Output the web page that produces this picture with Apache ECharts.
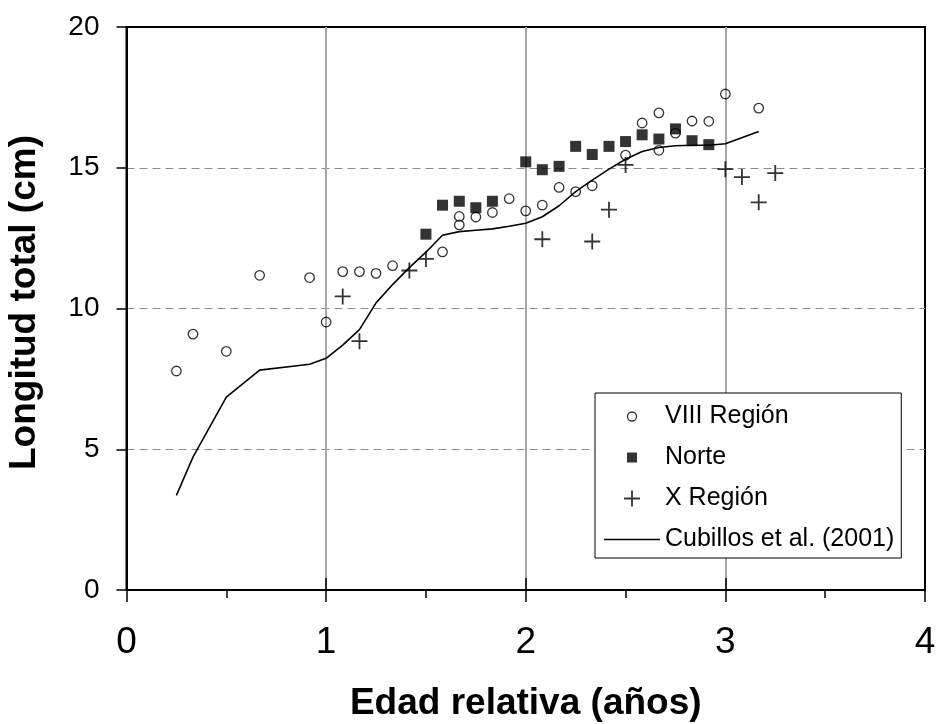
<!DOCTYPE html>
<html>
<head>
<meta charset="utf-8">
<script src="https://cdn.jsdelivr.net/npm/echarts@6/dist/echarts.min.js"></script>
<style>
  html, body { margin: 0; padding: 0; background: #fff; }
  #chart { width: 938px; height: 724px; }
</style>
</head>
<body>
<div id="chart"></div>
<script>
// VIII Región (círculos)
const viiiAge = [0.25, 0.333, 0.5, 0.667, 0.917, 1.0, 1.083, 1.167, 1.25, 1.333,
  1.583, 1.667, 1.667, 1.75, 1.833, 1.917, 2.0, 2.083, 2.167, 2.25, 2.333,
  2.5, 2.583, 2.667, 2.667, 2.75, 2.833, 2.917, 3.0, 3.167];
const viiiLen = [7.78, 9.09, 8.48, 11.18, 11.10, 9.52, 11.31, 11.31, 11.25, 11.52,
  12.01, 12.97, 13.27, 13.25, 13.41, 13.90, 13.47, 13.67, 14.30, 14.15, 14.36,
  15.45, 16.59, 16.95, 15.62, 16.23, 16.66, 16.65, 17.62, 17.12];

// Norte (cuadrados)
const norteAge = [1.5, 1.583, 1.667, 1.75, 1.833, 2.0, 2.083, 2.167, 2.25, 2.333,
  2.417, 2.5, 2.583, 2.667, 2.75, 2.833, 2.917];
const norteLen = [12.64, 13.67, 13.81, 13.58, 13.81, 15.21, 14.93, 15.05, 15.76, 15.47,
  15.76, 15.93, 16.17, 16.02, 16.38, 15.96, 15.82];

// X Región (cruces)
const xAge = [1.083, 1.167, 1.417, 1.5, 2.083, 2.333, 2.417, 2.5, 3.0, 3.083, 3.167, 3.25];
const xLen = [10.43, 8.84, 11.35, 11.76, 12.46, 12.38, 13.51, 15.10, 14.95, 14.67, 13.77, 14.81];

// Cubillos et al. (2001)
const cubAge = [0.25, 0.333, 0.5, 0.667, 0.917, 1.0, 1.083, 1.167, 1.25, 1.333, 1.417,
  1.5, 1.583, 1.667, 1.75, 1.833, 1.917, 2.0, 2.083, 2.167, 2.25, 2.333, 2.417,
  2.5, 2.583, 2.667, 2.75, 2.833, 2.917, 3.0, 3.167];
const cubLen = [3.36, 4.72, 6.85, 7.81, 8.02, 8.23, 8.7, 9.25, 10.2, 10.85, 11.45,
  12.0, 12.6, 12.73, 12.78, 12.83, 12.92, 13.03, 13.26, 13.65, 14.15, 14.56, 14.95,
  15.3, 15.58, 15.72, 15.78, 15.8, 15.8, 15.85, 16.29];

const xTicks = [0, 1, 2, 3, 4];
const yTicks = [0, 5, 10, 15, 20];

const pair = (a, b) => a.map((v, i) => [v, b[i]]);

const FONT = '"Liberation Sans", Arial, sans-serif';
const plusPath = 'path://M7.1,0H8.9V7.1H16V8.9H8.9V16H7.1V8.9H0V7.1H7.1Z';

var chart = echarts.init(document.getElementById('chart'), null, { renderer: 'canvas' });

var option = {
    backgroundColor: '#fff',
    animation: false,
    grid: {
        left: 126.5,
        right: 13,
        top: 27,
        bottom: 134,
        outerBoundsMode: 'none',
        containLabel: false,
        show: true,
        borderColor: '#000',
        borderWidth: 2,
        backgroundColor: 'transparent'
    },
    legend: {
        orient: 'vertical',
        left: 595,
        top: 393,
        padding: [11, 7, 6, 9],
        itemGap: 16,
        itemWidth: 56,
        itemHeight: 16,
        selectedMode: false,
        backgroundColor: '#fff',
        borderColor: '#000',
        borderWidth: 1,
        borderRadius: 0,
        itemStyle: { borderWidth: 1.3 },
        textStyle: { fontFamily: FONT, fontSize: 25, lineHeight: 25, color: '#000' },
        data: [
            { name: 'VIII Región', icon: 'path://M0,0M16,16M12.5,8A4.5,4.5,0,1,1,3.5,8A4.5,4.5,0,1,1,12.5,8Z' },
            { name: 'Norte', icon: 'path://M0,0M16,16M3,3H13V13H3Z' },
            { name: 'X Región', icon: plusPath },
            { name: 'Cubillos et al. (2001)', icon: 'path://M0,7.2H56V8.8H0Z' }
        ]
    },
    xAxis: [
        {
            type: 'value',
            min: 0,
            max: 4,
            interval: 1,
            name: 'Edad relativa (años)',
            nameLocation: 'middle',
            nameGap: 95,
            nameTextStyle: { fontFamily: FONT, fontSize: 37, fontWeight: 'bold', color: '#000' },
            axisLine: { show: true, onZero: false, lineStyle: { color: '#000', width: 2 } },
            axisTick: { show: true, length: 12, lineStyle: { color: '#000', width: 1.5 } },
            minorTick: { show: true, splitNumber: 2, length: 8, lineStyle: { color: '#000', width: 1.5 } },
            axisLabel: {
                margin: 34,
                fontFamily: FONT,
                fontSize: 37,
                color: '#000',
                customValues: xTicks
            },
            splitLine: {
                show: true,
                showMinLine: false,
                showMaxLine: false,
                lineStyle: { color: '#a6a6a6', width: 2 }
            }
        },
        {
            // parte interior de las marcas principales
            type: 'value',
            position: 'bottom',
            min: 0,
            max: 4,
            interval: 1,
            axisLine: { show: false },
            axisTick: { show: true, inside: true, length: 12, lineStyle: { color: '#000', width: 1.5 } },
            axisLabel: { show: false },
            splitLine: { show: false }
        }
    ],
    yAxis: {
        type: 'value',
        min: 0,
        max: 20,
        interval: 5,
        name: 'Longitud total (cm)',
        nameLocation: 'middle',
        nameGap: 83,
        nameTextStyle: {
            fontFamily: FONT, fontSize: 37, fontWeight: 'bold', color: '#000',
            padding: [0, 0, 0, 12]
        },
        axisLine: { show: true, onZero: false, lineStyle: { color: '#000', width: 2 } },
        axisTick: { show: true, length: 10, lineStyle: { color: '#000', width: 1.5 } },
        axisLabel: {
            margin: 27,
            fontFamily: FONT,
            fontSize: 28,
            color: '#000',
            customValues: yTicks
        },
        splitLine: {
            show: true,
            showMinLine: false,
            showMaxLine: false,
            lineStyle: { color: '#8c8c8c', width: 1, type: [8, 5] }
        }
    },
    series: [
        {
            name: 'VIII Región',
            type: 'scatter',
            symbol: 'circle',
            symbolSize: 9.5,
            itemStyle: { color: 'rgba(0,0,0,0)', borderColor: '#000', borderWidth: 1.3 },
            data: pair(viiiAge, viiiLen)
        },
        {
            name: 'Norte',
            type: 'scatter',
            symbol: 'rect',
            symbolSize: 11,
            itemStyle: { color: '#000' },
            data: pair(norteAge, norteLen)
        },
        {
            name: 'X Región',
            type: 'scatter',
            symbol: plusPath,
            symbolSize: 16,
            itemStyle: { color: '#000' },
            data: pair(xAge, xLen)
        },
        {
            name: 'Cubillos et al. (2001)',
            type: 'line',
            showSymbol: false,
            symbol: 'none',
            lineStyle: { color: '#000', width: 1.6 },
            itemStyle: { color: '#000' },
            data: pair(cubAge, cubLen)
        }
    ]
};

chart.setOption(option);
</script>
</body>
</html>
